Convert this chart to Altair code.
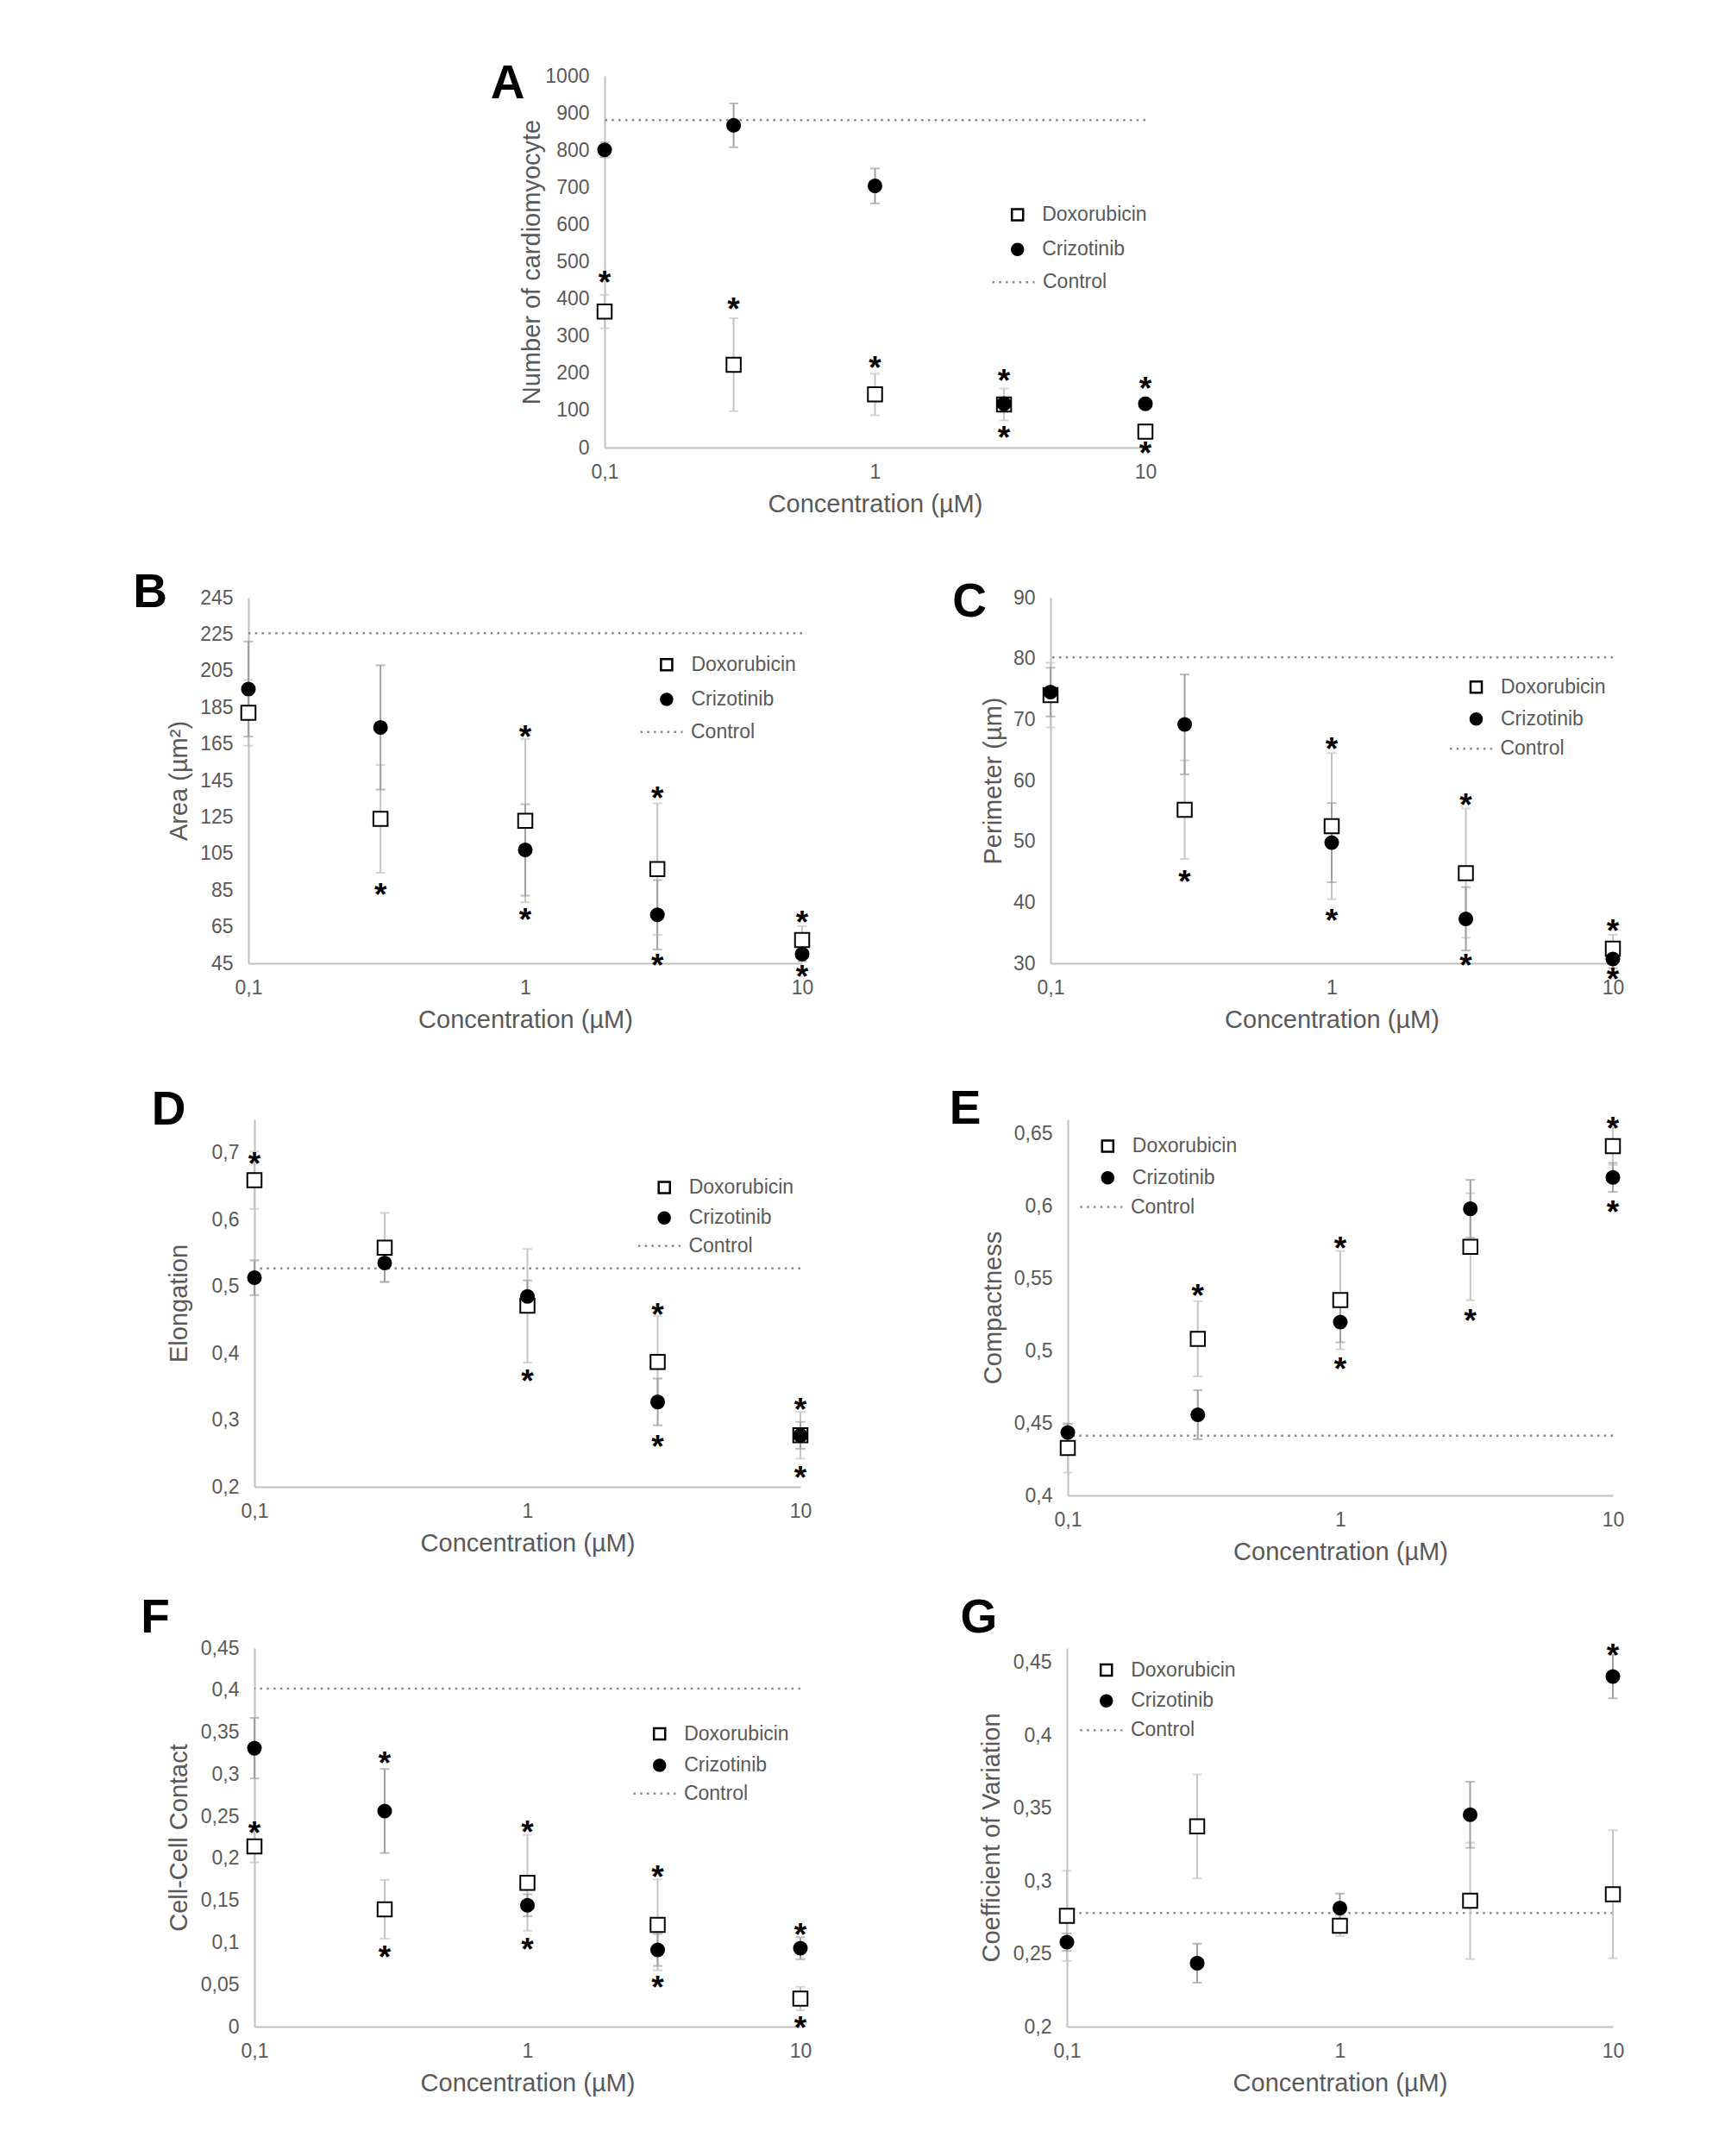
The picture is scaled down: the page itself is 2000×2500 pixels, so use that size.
import altair as alt
import pandas as pd

# ---------------- data ----------------
conc = [0.1, 0.3, 1, 3, 10]
series_names = ["Doxorubicin", "Crizotinib"]

# A: Number of cardiomyocyte
a_doxo = [366, 223, 143, 116, 43]
a_doxo_err = [45, 125, 56, 43, 7]
a_crizo = [801, 867, 704, 118, 118]
a_crizo_err = [20, 59, 47, 12, 10]
a_control = 881
a_star_x = [0.1, 0.3, 1, 3, 3, 10, 10]
a_star_y = [463, 392, 234, 200, 47, 178, 4]
a_yticks = [0, 100, 200, 300, 400, 500, 600, 700, 800, 900, 1000]

# B: Area
b_doxo = [182, 124, 123, 96.5, 57.7]
b_doxo_err = [18, 29.5, 44.6, 36, 7.6]
b_crizo = [195, 174, 107, 71.5, 50.1]
b_crizo_err = [26, 34, 25, 19, 4]
b_control = 225.5
b_star_x = [0.3, 1, 1, 3, 3, 10, 10]
b_star_y = [86.4, 172.8, 72.8, 139.5, 47.9, 71.2, 41.6]
b_yticks = [45, 65, 85, 105, 125, 145, 165, 185, 205, 225, 245]

# C: Perimeter
c_doxo = [74.0, 55.2, 52.5, 44.8, 32.4]
c_doxo_err = [5.3, 8.1, 12, 10.6, 2.3]
c_crizo = [74.5, 69.2, 49.8, 37.3, 30.7]
c_crizo_err = [4, 8.2, 6.5, 5.2, 1.5]
c_control = 80.2
c_star_x = [0.3, 1, 1, 3, 3, 10, 10]
c_star_y = [44.6, 66.3, 38.2, 57.2, 30.8, 36.5, 28.6]
c_yticks = [30, 40, 50, 60, 70, 80, 90]

# D: Elongation
d_doxo = [0.659, 0.558, 0.471, 0.387, 0.277]
d_doxo_err = [0.043, 0.052, 0.085, 0.069, 0.035]
d_crizo = [0.513, 0.535, 0.485, 0.327, 0.277]
d_crizo_err = [0.026, 0.028, 0.024, 0.035, 0.02]
d_control = 0.527
d_star_x = [0.1, 1, 3, 3, 10, 10]
d_star_y = [0.694, 0.369, 0.468, 0.271, 0.326, 0.225]
d_yticks = [0.2, 0.3, 0.4, 0.5, 0.6, 0.7]

# E: Compactness
e_doxo = [0.4328, 0.5083, 0.535, 0.5719, 0.6415]
e_doxo_err = [0.017, 0.026, 0.034, 0.037, 0.013]
e_crizo = [0.4435, 0.4558, 0.5199, 0.5982, 0.6199]
e_crizo_err = [0.006, 0.017, 0.014, 0.02, 0.01]
e_control = 0.4413
e_star_x = [0.3, 1, 1, 3, 10, 10]
e_star_y = [0.5429, 0.5757, 0.4922, 0.5261, 0.6589, 0.6009]
e_yticks = [0.4, 0.45, 0.5, 0.55, 0.6, 0.65]

# F: Cell-Cell Contact
f_doxo = [0.2142, 0.1395, 0.171, 0.121, 0.0334]
f_doxo_err = [0.019, 0.035, 0.057, 0.054, 0.014]
f_crizo = [0.331, 0.2563, 0.1443, 0.0912, 0.0932]
f_crizo_err = [0.036, 0.05, 0.013, 0.019, 0.013]
f_control = 0.4017
f_star_x = [0.1, 0.3, 0.3, 1, 1, 3, 3, 10, 10]
f_star_y = [0.239, 0.3215, 0.0912, 0.2398, 0.1002, 0.1867, 0.0558, 0.1179, 0.0071]
f_yticks = [0, 0.05, 0.1, 0.15, 0.2, 0.25, 0.3, 0.35, 0.4, 0.45]

# G: Coefficient of Variation
g_doxo = [0.2761, 0.3375, 0.2693, 0.2864, 0.2909]
g_doxo_err = [0.031, 0.0357, 0.007, 0.04, 0.044]
g_crizo = [0.258, 0.2436, 0.2814, 0.3455, 0.4405]
g_crizo_err = [0.006, 0.0134, 0.01, 0.0227, 0.015]
g_control = 0.278
g_star_x = [10]
g_star_y = [0.4602]
g_yticks = [0.2, 0.25, 0.3, 0.35, 0.4, 0.45]

# ---------------- style / layout ----------------
GREY_TXT = "#595959"
AXIS_COL = "#c0c0c0"
CTRL_COL = "#8a8a8a"
ERR_COLS = {"Doxorubicin": "#c4c4c4", "Crizotinib": "#a0a0a0"}
MARK_SIZE = {"Doxorubicin": 272, "Crizotinib": 227}
FONT = "Liberation Sans"
X0 = 270  # page x of layout origin
STAR_FS = 37

LABEL_EXPR = "replace(format(datum.value, '~g'), '.', ',')"
RES = dict(shape="independent", fill="independent", stroke="independent",
           strokeDash="independent")


def panel(letter, ytitle, doxo, doxo_err, crizo, crizo_err, control,
          star_x, star_y, ydomain, yticks, lay):
    left, top, w, h = lay["left"], lay["top"], lay["w"], lay["h"]

    pts = pd.DataFrame({
        "x": conc + conc,
        "value": doxo + crizo,
        "series": [series_names[0]] * 5 + [series_names[1]] * 5,
    })
    err = pd.DataFrame({
        "x": conc + conc,
        "lo": [v - e for v, e in zip(doxo, doxo_err)] + [v - e for v, e in zip(crizo, crizo_err)],
        "hi": [v + e for v, e in zip(doxo, doxo_err)] + [v + e for v, e in zip(crizo, crizo_err)],
        "series": [series_names[0]] * 5 + [series_names[1]] * 5,
    })
    ctrl = pd.DataFrame({"value": [control], "label": ["Control"]})
    stars = pd.DataFrame({"x": star_x, "y": star_y})
    letter_df = pd.DataFrame({"x": [conc[0]], "y": [ydomain[1]], "t": [letter]})

    xscale = alt.Scale(type="log", domain=[0.1, 10], nice=False)
    xaxis = alt.Axis(values=[0.1, 1, 10], labelExpr=LABEL_EXPR,
                     title="Concentration (µM)", titleY=65, titleBaseline="middle",
                     labelFlush=False, labelOverlap=False, grid=False, ticks=False,
                     tickSize=0, domainColor=AXIS_COL, domainWidth=2, labelPadding=17)
    yscale = alt.Scale(domain=ydomain, nice=False, zero=False)
    yaxis = alt.Axis(values=yticks, labelExpr=LABEL_EXPR, title=ytitle,
                     titleX=lay["ytitle_cx"] - left, titleBaseline="middle",
                     labelFlush=False, labelOverlap=False, grid=False, ticks=False,
                     tickSize=0, domainColor=AXIS_COL, domainWidth=2, labelPadding=18)

    def X(f="x"):
        return alt.X(f + ":Q", scale=xscale, axis=xaxis)

    def Y(f):
        return alt.Y(f + ":Q", scale=yscale, axis=yaxis)

    rows = lay["rows"]
    pt_legend = alt.Legend(title=None, orient="none", direction="vertical",
                           legendX=lay["sym_cx"] - 7.8 - left,
                           legendY=rows[0] - 11.5 - top,
                           rowPadding=(rows[1] - rows[0]) - 23,
                           symbolSize=170, symbolStrokeWidth=2.5, labelOffset=17,
                           labelFontSize=23, labelColor=GREY_TXT, padding=0)
    ctrl_legend = alt.Legend(title=None, orient="none",
                             legendX=lay["ctrl_left"] - 1 - left,
                             legendY=rows[2] - 24.5 - top,
                             symbolType="stroke", symbolSize=49 * 49,
                             symbolStrokeWidth=2.5, symbolStrokeColor=CTRL_COL,
                             labelOffset=8, labelFontSize=23, labelColor=GREY_TXT,
                             padding=0)

    layers = []
    layers.append(alt.Chart(ctrl).mark_rule(color=CTRL_COL, strokeWidth=2.5).encode(
        y=Y("value"),
        strokeDash=alt.StrokeDash("label:N",
                                  scale=alt.Scale(domain=["Control"], range=[[2.5, 5.3]]),
                                  legend=ctrl_legend),
    ))
    for s in series_names:
        base = alt.Chart(err).transform_filter(alt.datum.series == s)
        col = ERR_COLS[s]
        layers.append(base.mark_rule(strokeWidth=2, color=col).encode(
            x=X(), y=Y("lo"), y2=alt.Y2("hi:Q")))
        layers.append(base.mark_tick(orient="horizontal", size=11, thickness=2,
                                     color=col).encode(x=X(), y=Y("lo")))
        layers.append(base.mark_tick(orient="horizontal", size=11, thickness=2,
                                     color=col).encode(x=X(), y=Y("hi")))
    for s in series_names:
        layers.append(alt.Chart(pts).transform_filter(alt.datum.series == s).mark_point(
            filled=True, strokeWidth=2, opacity=1, size=MARK_SIZE[s]
        ).encode(
            x=X(), y=Y("value"),
            shape=alt.Shape("series:N", scale=alt.Scale(domain=series_names,
                                                        range=["square", "circle"]),
                            legend=pt_legend),
            fill=alt.Fill("series:N", scale=alt.Scale(domain=series_names,
                                                      range=["white", "black"]),
                          legend=pt_legend),
            stroke=alt.Stroke("series:N", scale=alt.Scale(domain=series_names,
                                                          range=["black", "black"]),
                              legend=pt_legend),
        ))
    layers.append(alt.Chart(stars).mark_text(text="*", fontSize=STAR_FS, fontWeight="bold",
                                             color="black", baseline="middle",
                                             align="center",
                                             dy=round(0.272 * STAR_FS)).encode(
        x=X(), y=Y("y")))
    layers.append(alt.Chart(letter_df).mark_text(
        fontSize=55, fontWeight="bold", color="black", align="center", baseline="middle",
        dx=lay["letter_cx"] - left, dy=lay["letter_cy"] + 3.2 - top,
    ).encode(x=X(), y=Y("y"), text="t:N"))

    return alt.layer(*layers).properties(width=w, height=h)


LAY = {
    "A": dict(left=701, top=88, w=627, h=431, letter_cx=588.5, letter_cy=93.7,
              ytitle_cx=616, sym_cx=1176, rows=[249.1, 287.2, 325.7], ctrl_left=1150),
    "B": dict(left=288, top=693, w=642, h=424, letter_cx=174, letter_cy=684,
              ytitle_cx=207.8, sym_cx=769.2, rows=[770.8, 809, 847.3], ctrl_left=742),
    "C": dict(left=1218, top=693, w=652, h=424, letter_cx=1124, letter_cy=694.8,
              ytitle_cx=1151.5, sym_cx=1707.8, rows=[796.7, 831.7, 866.7], ctrl_left=1680.4),
    "D": dict(left=295, top=1298, w=633, h=426, letter_cx=195.6, letter_cy=1283.3,
              ytitle_cx=207.8, sym_cx=766.5, rows=[1377, 1410.3, 1443.2], ctrl_left=739.4),
    "E": dict(left=1238, top=1298, w=632, h=436, letter_cx=1119, letter_cy=1283,
              ytitle_cx=1151.5, sym_cx=1280.6, rows=[1329.1, 1363.7, 1398], ctrl_left=1251.9),
    "F": dict(left=295, top=1911, w=633, h=439, letter_cx=180, letter_cy=1873,
              ytitle_cx=207.8, sym_cx=761, rows=[2010.5, 2044.9, 2078.3], ctrl_left=733.9),
    "G": dict(left=1237, top=1911, w=633, h=439, letter_cx=1135, letter_cy=1873,
              ytitle_cx=1149.9, sym_cx=1279, rows=[1936.6, 1970.3, 2004.8], ctrl_left=1251.9),
}

pA = panel("A", "Number of cardiomyocyte", a_doxo, a_doxo_err, a_crizo, a_crizo_err,
           a_control, a_star_x, a_star_y, [0, 1000], a_yticks, LAY["A"])
pB = panel("B", "Area (µm²)", b_doxo, b_doxo_err, b_crizo, b_crizo_err,
           b_control, b_star_x, b_star_y, [45, 245], b_yticks, LAY["B"])
pC = panel("C", "Perimeter (µm)", c_doxo, c_doxo_err, c_crizo, c_crizo_err,
           c_control, c_star_x, c_star_y, [30, 90], c_yticks, LAY["C"])
pD = panel("D", "Elongation", d_doxo, d_doxo_err, d_crizo, d_crizo_err,
           d_control, d_star_x, d_star_y, [0.2, 0.75], d_yticks, LAY["D"])
pE = panel("E", "Compactness", e_doxo, e_doxo_err, e_crizo, e_crizo_err,
           e_control, e_star_x, e_star_y, [0.4, 0.66], e_yticks, LAY["E"])
pF = panel("F", "Cell-Cell Contact", f_doxo, f_doxo_err, f_crizo, f_crizo_err,
           f_control, f_star_x, f_star_y, [0, 0.45], f_yticks, LAY["F"])
pG = panel("G", "Coefficient of Variation", g_doxo, g_doxo_err, g_crizo, g_crizo_err,
           g_control, g_star_x, g_star_y, [0.2, 0.46], g_yticks, LAY["G"])

spacer_df = pd.DataFrame({"v": [0]})


def spacer(w, h):
    return alt.Chart(spacer_df).mark_point(opacity=0).encode(
        x=alt.value(0), y=alt.value(0)).properties(width=w, height=h)


def row(items):
    return alt.concat(*items, columns=len(items), spacing=0, bounds="flush",
                      align="each").resolve_scale(**RES).resolve_legend(**RES)


L = LAY
rowA = row([spacer(L["A"]["left"] - X0, 1), pA])
rowBC = row([spacer(L["B"]["left"] - X0, 1), pB,
             spacer(L["C"]["left"] - (L["B"]["left"] + L["B"]["w"]), 1), pC])
rowDE = row([spacer(L["D"]["left"] - X0, 1), pD,
             spacer(L["E"]["left"] - (L["D"]["left"] + L["D"]["w"]), 1), pE])
rowFG = row([spacer(L["F"]["left"] - X0, 1), pF,
             spacer(L["G"]["left"] - (L["F"]["left"] + L["F"]["w"]), 1), pG])

chart = alt.concat(
    rowA, spacer(1, L["B"]["top"] - L["A"]["top"]),
    rowBC, spacer(1, L["D"]["top"] - L["B"]["top"]),
    rowDE, spacer(1, L["F"]["top"] - L["D"]["top"]),
    rowFG,
    columns=1, spacing=0, bounds="flush", align="each",
).resolve_scale(**RES).resolve_legend(**RES).properties(
    padding={"left": 146, "top": 61, "right": 20, "bottom": 20}
).configure(font=FONT).configure_view(strokeWidth=0).configure_axis(
    labelFont=FONT, labelFontSize=23, labelColor=GREY_TXT,
    titleFont=FONT, titleFontSize=29, titleColor=GREY_TXT, titleFontWeight="normal",
).configure_legend(labelFont=FONT)

chart.save("out.html", embed_options={"renderer": "svg", "actions": False})
